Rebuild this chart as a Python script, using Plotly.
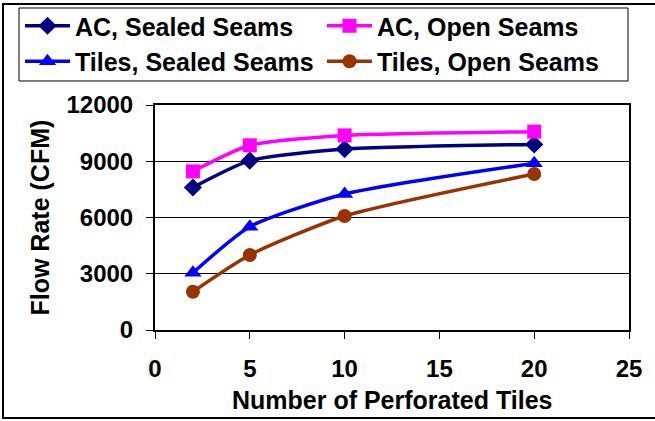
import plotly.graph_objects as go

# data
tiles = [2, 5, 10, 20]
ac_sealed = [7600, 9030, 9650, 9900]
ac_open = [8460, 9850, 10380, 10580]
tiles_sealed = [3050, 5510, 7250, 8890]
tiles_open = [2040, 4000, 6080, 8320]

# name, values, colour, marker, marker size, legend column
series = [
    ("AC, Sealed Seams", ac_sealed, "#000080", "diamond", 14, "legend"),
    ("AC, Open Seams", ac_open, "#FF00FF", "square", 14, "legend2"),
    ("Tiles, Sealed Seams", tiles_sealed, "#0000FF", "triangle-up", 15, "legend"),
    ("Tiles, Open Seams", tiles_open, "#993300", "circle", 14, "legend2"),
]

FONT = "Liberation Sans, Arial, sans-serif"
W, H = 655, 421

fig = go.Figure()
for name, vals, color, sym, size, leg in series:
    fig.add_trace(go.Scatter(
        x=tiles, y=vals, name=name, mode="lines+markers", legend=leg,
        line=dict(color=color, width=3.5, shape="spline", smoothing=0.6),
        marker=dict(color=color, symbol=sym, size=size),
    ))

legend_style = dict(
    orientation="v", xref="container", yref="container",
    yanchor="top", xanchor="left", y=1 - 3 / H,
    itemwidth=45, tracegroupgap=0, bgcolor="rgba(0,0,0,0)",
    font=dict(family=FONT, size=25, color="black", weight="bold"),
)

title_font = dict(family=FONT, size=25, color="black", weight="bold")

fig.update_layout(
    width=W, height=H,
    margin=dict(l=155, r=26, t=105, b=91, autoexpand=False),
    paper_bgcolor="white", plot_bgcolor="white",
    font=dict(family=FONT, size=24, color="black", weight="bold"),
    showlegend=True,
    legend=dict(legend_style, x=20 / W),
    legend2=dict(legend_style, x=322 / W),
    xaxis=dict(
        range=[0, 25], dtick=5, tick0=0,
        showgrid=False, zeroline=False,
        showline=True, linecolor="black", linewidth=2, mirror=True,
        ticks="outside", ticklen=7, tickcolor="black",
        ticklabelstandoff=9,
        tickfont=dict(family=FONT, size=24, weight="bold"),
    ),
    yaxis=dict(
        range=[0, 12000], dtick=3000, tick0=0, tickformat="d",
        showgrid=True, gridcolor="black", gridwidth=1, zeroline=False,
        showline=True, linecolor="black", linewidth=2, mirror=True,
        ticks="outside", ticklen=7, tickcolor="black",
        ticklabelstandoff=8,
        tickfont=dict(family=FONT, size=24, weight="bold"),
    ),
    annotations=[
        dict(text="Number of Perforated Tiles", xref="paper", yref="paper",
             x=0.5, y=-0.311, xanchor="center", yanchor="middle",
             showarrow=False, font=title_font),
        dict(text="Flow Rate (CFM)", xref="paper", yref="paper",
             x=-0.2447, y=0.5, xanchor="center", yanchor="middle",
             textangle=-90, showarrow=False, font=title_font),
    ],
    shapes=[
        # outer chart frame
        dict(type="rect", xref="paper", yref="paper",
             x0=-0.3207, x1=1.0654, y0=-0.3911, y1=1.4489,
             line=dict(color="black", width=2), layer="below"),
        # legend frame
        dict(type="rect", xref="paper", yref="paper",
             x0=-0.2869, x1=0.9979, y0=1.1067, y1=1.4311,
             line=dict(color="black", width=1), layer="below"),
    ],
)

# the page body has a default 8px margin; drop it so the chart sits at 0,0
fig.write_html("out.html", config={"displayModeBar": False},
               post_script="document.body.style.margin='0';")
